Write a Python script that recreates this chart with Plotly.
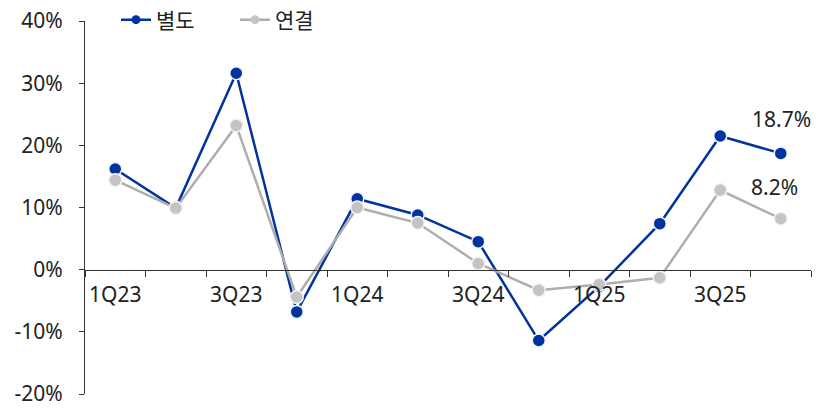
import plotly.graph_objects as go

categories = ["1Q23", "2Q23", "3Q23", "4Q23", "1Q24", "2Q24", "3Q24", "4Q24",
              "1Q25", "2Q25", "3Q25", "4Q25"]
tick_labels = ["1Q23", "", "3Q23", "", "1Q24", "", "3Q24", "", "1Q25", "", "3Q25", ""]
separate = [16.2, 9.9, 31.6, -6.8, 11.4, 8.8, 4.5, -11.4, -2.7, 7.4, 21.5, 18.7]
consolidated = [14.4, 9.9, 23.2, -4.4, 10.0, 7.5, 1.0, -3.3, -2.4, -1.3, 12.8, 8.2]
y_ticks = [-20, -10, 0, 10, 20, 30, 40]
y_tick_text = [f"{v}%" for v in y_ticks]

FONT = "Noto Sans, Noto Sans CJK KR"
SIZE = 21
TXT = "#222222"
BLUE = "#00339C"
GRAY_LINE = "#AEAEAE"
GRAY_MARK = "#C4C4C4"

W, H = 820, 408

fig = go.Figure()
fig.add_trace(go.Scatter(
    x=categories, y=separate, name="별도", mode="lines+markers", showlegend=False,
    line=dict(color=BLUE, width=2.5),
    marker=dict(size=13, color=BLUE, line=dict(color="#F0F4FF", width=1.5)),
))
fig.add_trace(go.Scatter(
    x=categories, y=consolidated, name="연결", mode="lines+markers", showlegend=False,
    line=dict(color=GRAY_LINE, width=2.5),
    marker=dict(size=13, color=GRAY_MARK, line=dict(color="#F4F4F4", width=1.5)),
))
# legend entries (smaller legend markers as in the reference)
fig.add_trace(go.Scatter(
    x=[None], y=[None], name="별도", mode="lines+markers",
    line=dict(color=BLUE, width=2.5), marker=dict(size=9, color=BLUE),
))
fig.add_trace(go.Scatter(
    x=[None], y=[None], name="연결", mode="lines+markers",
    line=dict(color=GRAY_LINE, width=2.5), marker=dict(size=9, color=GRAY_MARK),
))

fig.add_annotation(x=categories[-1], y=separate[-1], text=f"{separate[-1]:.1f}%",
                   showarrow=False, yshift=34, xshift=1,
                   font=dict(family=FONT, size=SIZE, color=TXT))
fig.add_annotation(x=categories[-1], y=consolidated[-1], text=f"{consolidated[-1]:.1f}%",
                   showarrow=False, yshift=32, xshift=-6,
                   font=dict(family=FONT, size=SIZE, color=TXT))

fig.update_layout(
    width=W, height=H,
    margin=dict(l=85, r=9, t=21, b=14, autoexpand=False),
    paper_bgcolor="white", plot_bgcolor="white",
    font=dict(family=FONT, size=SIZE, color=TXT),
    showlegend=True,
    legend=dict(orientation="h", xref="container", yref="container",
                x=116 / W, y=1 - 20 / H, xanchor="left", yanchor="middle",
                entrywidth=74, entrywidthmode="pixels",
                bgcolor="rgba(0,0,0,0)", font=dict(family=FONT, size=SIZE, color=TXT),
                tracegroupgap=0),
    xaxis=dict(
        type="category", range=[-0.5, 11.5], automargin=False,
        tickmode="array", tickvals=categories, ticktext=tick_labels, tickangle=0,
        tickson="boundaries", ticks="outside", ticklen=6, tickcolor="#333333",
        showline=True, linecolor="#333333", linewidth=1,
        showgrid=False, zeroline=False,
        anchor="free", position=20 / 60,
        ticklabelstandoff=6, ticklabeloverflow="allow",
        tickfont=dict(family=FONT, size=SIZE, color=TXT),
    ),
    yaxis=dict(
        range=[-20, 40], automargin=False,
        tickmode="array", tickvals=y_ticks, ticktext=y_tick_text,
        ticks="outside", ticklen=5, tickcolor="#333333",
        showline=True, linecolor="#333333", linewidth=1,
        showgrid=False, zeroline=False,
        ticklabelstandoff=12, ticklabeloverflow="allow",
        tickfont=dict(family=FONT, size=SIZE, color=TXT),
    ),
)

fig.write_html("out.html", config={"displayModeBar": False},
               post_script="document.body.style.margin='0';document.body.style.padding='0';")
